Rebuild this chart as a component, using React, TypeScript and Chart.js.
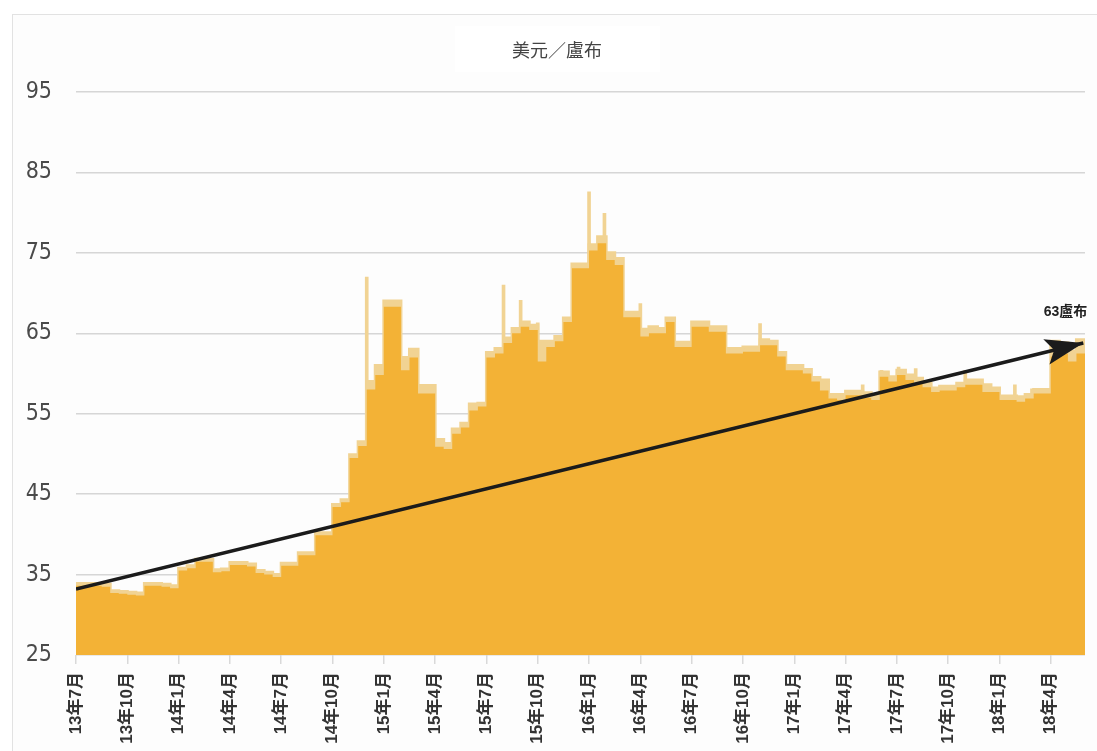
import { useEffect, useRef } from "react";
import { Chart, registerables } from "chart.js";

Chart.register(...registerables);

// X axis: months since 2013-07, tick every 3 months
const tickLabels = [
  "13年7月", "13年10月", "14年1月", "14年4月", "14年7月", "14年10月",
  "15年1月", "15年4月", "15年7月", "15年10月", "16年1月", "16年4月",
  "16年7月", "16年10月", "17年1月", "17年4月", "17年7月", "17年10月",
  "18年1月", "18年4月",
];
const tickMonths = tickLabels.map((_, i) => i * 3);

// Half-month step values (USD/RUB close)
const closeValues = [
  33.6, 33.6, 33.6, 33.5, 32.7, 32.6, 32.5, 32.4, 33.6, 33.6, 33.5, 33.3,
  35.5, 35.8, 36.6, 36.6, 35.3, 35.4, 36.2, 36.2, 36.0, 35.2, 35.0, 34.7,
  36.1, 36.1, 37.4, 37.4, 39.9, 39.9, 43.4, 44.0, 49.5, 51.0, 58.0, 59.8,
  68.3, 68.3, 60.4, 62.0, 57.5, 57.5, 50.9, 50.6, 52.5, 53.3, 55.4, 55.9,
  62.0, 62.5, 63.8, 65.0, 65.8, 65.4, 61.5, 63.3, 64.0, 66.4, 73.1, 73.1,
  75.3, 76.2, 74.1, 73.5, 67.0, 67.0, 64.6, 65.0, 65.0, 66.4, 63.3, 63.3,
  65.8, 65.8, 65.2, 65.2, 62.5, 62.5, 62.7, 62.7, 63.5, 63.5, 62.1, 60.4,
  60.4, 60.0, 59.0, 57.9, 56.9, 56.7, 57.3, 57.3, 57.0, 56.7, 59.6, 59.0,
  59.8, 59.2, 58.8, 58.3, 57.7, 57.9, 57.9, 58.3, 58.6, 58.6, 57.7, 57.7,
  56.7, 56.7, 56.5, 56.9, 57.5, 57.5, 62.1, 62.5, 61.5, 62.5,
];

// Half-month step values (upper envelope, light band)
const highValues = [
  33.9, 33.9, 33.9, 33.8, 33.0, 32.9, 32.8, 32.7, 33.9, 33.9, 33.8, 33.6,
  35.8, 36.1, 36.9, 36.9, 35.6, 35.7, 36.5, 36.5, 36.3, 35.5, 35.3, 35.0,
  36.4, 36.4, 37.7, 37.7, 40.2, 40.2, 43.7, 44.3, 49.9, 51.5, 59.0, 61.0,
  69.0, 69.0, 62.0, 63.0, 58.5, 58.5, 51.8, 51.3, 53.1, 53.8, 56.2, 56.3,
  62.6, 63.1, 64.4, 65.6, 66.4, 66.0, 64.0, 64.0, 64.6, 66.9, 73.6, 73.6,
  76.0, 77.0, 75.0, 74.3, 67.6, 67.6, 65.5, 65.8, 65.6, 66.9, 63.9, 63.9,
  66.4, 66.4, 65.8, 65.8, 63.1, 63.1, 63.3, 63.3, 64.2, 64.0, 62.6, 61.0,
  61.0, 60.5, 59.5, 59.2, 57.4, 57.4, 57.8, 57.8, 57.6, 57.2, 60.2, 59.6,
  60.4, 59.8, 59.4, 58.8, 58.2, 58.4, 58.4, 58.8, 59.2, 59.2, 58.6, 58.2,
  57.2, 57.2, 57.1, 57.4, 58.0, 58.0, 64.0, 63.8, 62.8, 64.2,
];

// Intraperiod spikes (thin light lines)
const spikeMonths = [17.0, 25.0, 26.0, 27.0, 30.0, 30.9, 33.0, 40.0, 46.0, 47.1, 48.1, 49.1, 52.0, 54.9, 55.9];
const spikeValues = [72.0, 71.0, 69.1, 66.3, 82.6, 79.9, 68.7, 66.2, 58.6, 60.4, 60.8, 60.6, 60.4, 58.6, 58.1];

// Trend arrow
const arrowMonths = [0, 58.9];
const arrowValues = [33.2, 63.8];
const arrowLabel = "63盧布";
const chartTitle = "美元／盧布";

const ORANGE = "#f3b236";
const LIGHT = "#f1d393";

function stepPoints(values: number[]) {
  const pts = values.map((v, i) => ({ x: i * 0.5, y: v }));
  pts.push({ x: values.length * 0.5, y: values[values.length - 1] });
  return pts;
}

const decorPlugin = {
  id: "decor",
  beforeDatasetsDraw(chart: any) {
    const ctx = chart.ctx;
    ctx.save();
    ctx.fillStyle = "#ffffff";
    ctx.fillRect(455, 26, 205, 46);
    ctx.fillStyle = "#444444";
    ctx.font = '18px "Noto Sans CJK TC", sans-serif';
    ctx.textAlign = "center";
    ctx.textBaseline = "middle";
    ctx.fillText(chartTitle, 557, 50);
    ctx.restore();
  },
  afterDatasetsDraw(chart: any) {
    const ctx = chart.ctx;
    const meta = chart.getDatasetMeta(0);
    const pts = meta.data;
    const p0 = pts[0];
    const p1 = pts[pts.length - 1];
    const ang = Math.atan2(p1.y - p0.y, p1.x - p0.x);
    ctx.save();
    ctx.translate(p1.x, p1.y);
    ctx.rotate(ang);
    ctx.beginPath();
    ctx.moveTo(0, 0);
    ctx.lineTo(-38, -13);
    ctx.lineTo(-30, 0);
    ctx.lineTo(-38, 13);
    ctx.closePath();
    ctx.fillStyle = "#1b1b1b";
    ctx.fill();
    ctx.restore();

    ctx.save();
    ctx.fillStyle = "#222222";
    ctx.textAlign = "right";
    ctx.textBaseline = "alphabetic";
    ctx.font = 'bold 14px "Liberation Sans", "Noto Sans CJK TC", sans-serif';
    ctx.fillText(arrowLabel, p1.x + 4, p1.y - 27);
    ctx.restore();
  },
};

export default function App() {
  const ref = useRef<HTMLCanvasElement | null>(null);

  useEffect(() => {
    if (!ref.current) return;
    const chart = new Chart(ref.current, {
      type: "line",
      data: {
        datasets: [
          {
            type: "line",
            data: arrowMonths.map((m, i) => ({ x: m, y: arrowValues[i] })),
            borderColor: "#1b1b1b",
            borderWidth: 3.5,
            pointRadius: 0,
            fill: false,
            order: 0,
          } as any,
          {
            type: "line",
            data: stepPoints(closeValues),
            stepped: true,
            borderWidth: 0,
            borderColor: ORANGE,
            backgroundColor: ORANGE,
            pointRadius: 0,
            fill: "start",
            order: 1,
          } as any,
          {
            type: "line",
            data: stepPoints(highValues),
            stepped: true,
            borderWidth: 3,
            borderColor: LIGHT,
            backgroundColor: LIGHT,
            pointRadius: 0,
            fill: "start",
            order: 2,
          } as any,
          {
            type: "bar",
            data: spikeMonths.map((m, i) => ({ x: m, y: spikeValues[i] })),
            backgroundColor: LIGHT,
            barThickness: 3,
            base: 25,
            order: 3,
          } as any,
        ],
      },
      options: {
        animation: false,
        responsive: false,
        maintainAspectRatio: false,
        layout: { padding: { top: 92, right: 12, left: 0, bottom: 0 } },
        plugins: {
          legend: { display: false },
          tooltip: { enabled: false },
          title: { display: false },
        },
        scales: {
          x: {
            type: "linear",
            min: 0,
            max: 59,
            offset: false,
            grid: {
              offset: false,
              drawOnChartArea: false,
              drawTicks: true,
              tickLength: 9,
              color: "#d9d9d9",
              lineWidth: 1.5,
            },
            border: { display: false },
            afterBuildTicks: (scale: any) => {
              scale.ticks = tickMonths.map((v) => ({ value: v }));
            },
            afterFit: (scale: any) => {
              scale.height = 96;
            },
            ticks: {
              autoSkip: false,
              minRotation: 90,
              maxRotation: 90,
              padding: 8,
              color: "#333333",
              font: { family: '"Liberation Sans", "Noto Sans CJK TC", sans-serif', size: 17, weight: "bold" },
              callback: (value: any) => {
                const idx = tickMonths.indexOf(Number(value));
                return idx >= 0 ? tickLabels[idx] : "";
              },
            },
          },
          y: {
            min: 25,
            max: 95,
            grid: { color: "#d6d6d6", lineWidth: 1.5, drawTicks: false },
            border: { display: false },
            afterFit: (scale: any) => {
              scale.width = 76;
            },
            ticks: {
              stepSize: 10,
              padding: 24,
              color: "#4a4a4a",
              font: { family: '"Liberation Sans Narrow", "DejaVu Sans Condensed", sans-serif', size: 23 },
            },
          },
        },
      } as any,
      plugins: [decorPlugin],
    });
    return () => chart.destroy();
  }, []);

  return (
    <div style={{ position: "fixed", left: 0, top: 0, width: 1097, height: 751, background: "#ffffff", overflow: "hidden" }}>
      <div
        style={{
          position: "absolute",
          left: 12,
          top: 14,
          width: 1100,
          height: 760,
          borderLeft: "1px solid #e2e2e2",
          borderTop: "1px solid #e2e2e2",
          background: "#fdfdfd",
        }}
      />
      <canvas ref={ref} width={1097} height={751} style={{ position: "absolute", left: 0, top: 0, width: 1097, height: 751 }} />
    </div>
  );
}
